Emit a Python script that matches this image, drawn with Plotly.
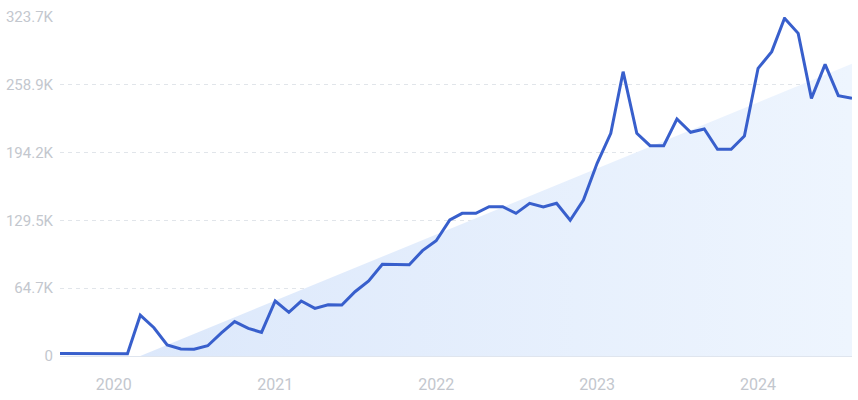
import plotly.graph_objects as go

months = [
    "2019-09-01", "2019-10-01", "2019-11-01", "2019-12-01",
    "2020-01-01", "2020-02-01", "2020-03-01", "2020-04-01", "2020-05-01", "2020-06-01",
    "2020-07-01", "2020-08-01", "2020-09-01", "2020-10-01", "2020-11-01", "2020-12-01",
    "2021-01-01", "2021-02-01", "2021-03-01", "2021-04-01", "2021-05-01", "2021-06-01",
    "2021-07-01", "2021-08-01", "2021-09-01", "2021-10-01", "2021-11-01", "2021-12-01",
    "2022-01-01", "2022-02-01", "2022-03-01", "2022-04-01", "2022-05-01", "2022-06-01",
    "2022-07-01", "2022-08-01", "2022-09-01", "2022-10-01", "2022-11-01", "2022-12-01",
    "2023-01-01", "2023-02-01", "2023-03-01", "2023-04-01", "2023-05-01", "2023-06-01",
    "2023-07-01", "2023-08-01", "2023-09-01", "2023-10-01", "2023-11-01", "2023-12-01",
    "2024-01-01", "2024-02-01", "2024-03-01", "2024-04-01", "2024-05-01", "2024-06-01",
    "2024-07-01", "2024-08-01",
]
volume = [
    2500, 2500, 2500, 2500,
    2500, 2200, 39000, 27000, 10500, 6700,
    6400, 9800, 22000, 32800, 26400, 22600,
    52500, 41700, 52500, 45500, 49000, 48700,
    61400, 71600, 87500, 87200, 87200, 100600,
    110000, 129900, 136200, 136200, 142600, 142600,
    136200, 145800, 142300, 145800, 129600, 149000,
    184000, 212700, 271500, 212700, 200800, 200800,
    226300, 213600, 216800, 197400, 197400, 210000,
    274700, 290600, 322500, 308100, 246000, 278500,
    248600, 246000,
]

trend_x = ["2020-03-01", "2024-08-01"]
trend_y = [0, 279000]

y_ticks = [0, 64740, 129480, 194220, 258960, 323700]
y_labels = ["0", "64.7K", "129.5K", "194.2K", "258.9K", "323.7K"]
x_ticks = ["2020-01-01", "2021-01-01", "2022-01-01", "2023-01-01", "2024-01-01"]
x_labels = ["2020", "2021", "2022", "2023", "2024"]

fig = go.Figure()
fig.add_trace(go.Scatter(
    x=trend_x, y=trend_y, mode="lines",
    line=dict(width=0, color="rgba(0,0,0,0)"),
    fill="tozeroy",
    fillgradient=dict(type="horizontal",
                      colorscale=[[0, "#dce8fb"], [1, "#eef5fe"]]),
    hoverinfo="skip", showlegend=False,
))
fig.add_trace(go.Scatter(
    x=months, y=volume, mode="lines",
    line=dict(color="#385fcc", width=3),
    showlegend=False, cliponaxis=False,
))

fig.update_layout(
    width=858, height=400,
    margin=dict(l=60, r=6, t=17, b=44),
    paper_bgcolor="white", plot_bgcolor="white",
    font=dict(family="Roboto, sans-serif", color="#c3c7ce"),
)
fig.update_xaxes(
    type="date", range=["2019-09-01", "2024-08-01"],
    tickvals=x_ticks, ticktext=x_labels,
    tickfont=dict(size=16, color="#c3c7ce"),
    showgrid=False, zeroline=False,
    showline=True, linecolor="#dfe5ee", linewidth=1,
    ticks="", ticklabelstandoff=14, automargin=False,
)
fig.update_yaxes(
    range=[0, 323700],
    tickvals=y_ticks, ticktext=y_labels,
    tickfont=dict(size=15, color="#c3c7ce"),
    showgrid=True, gridcolor="#e1e5ea", griddash="4px,4px", gridwidth=1,
    zeroline=False, showline=False, ticks="", ticklabelstandoff=6,
    automargin=False,
)

fig.write_html(
    "out.html",
    config={"displayModeBar": False},
    post_script="document.body.style.margin='0';document.body.style.overflow='hidden';",
)
